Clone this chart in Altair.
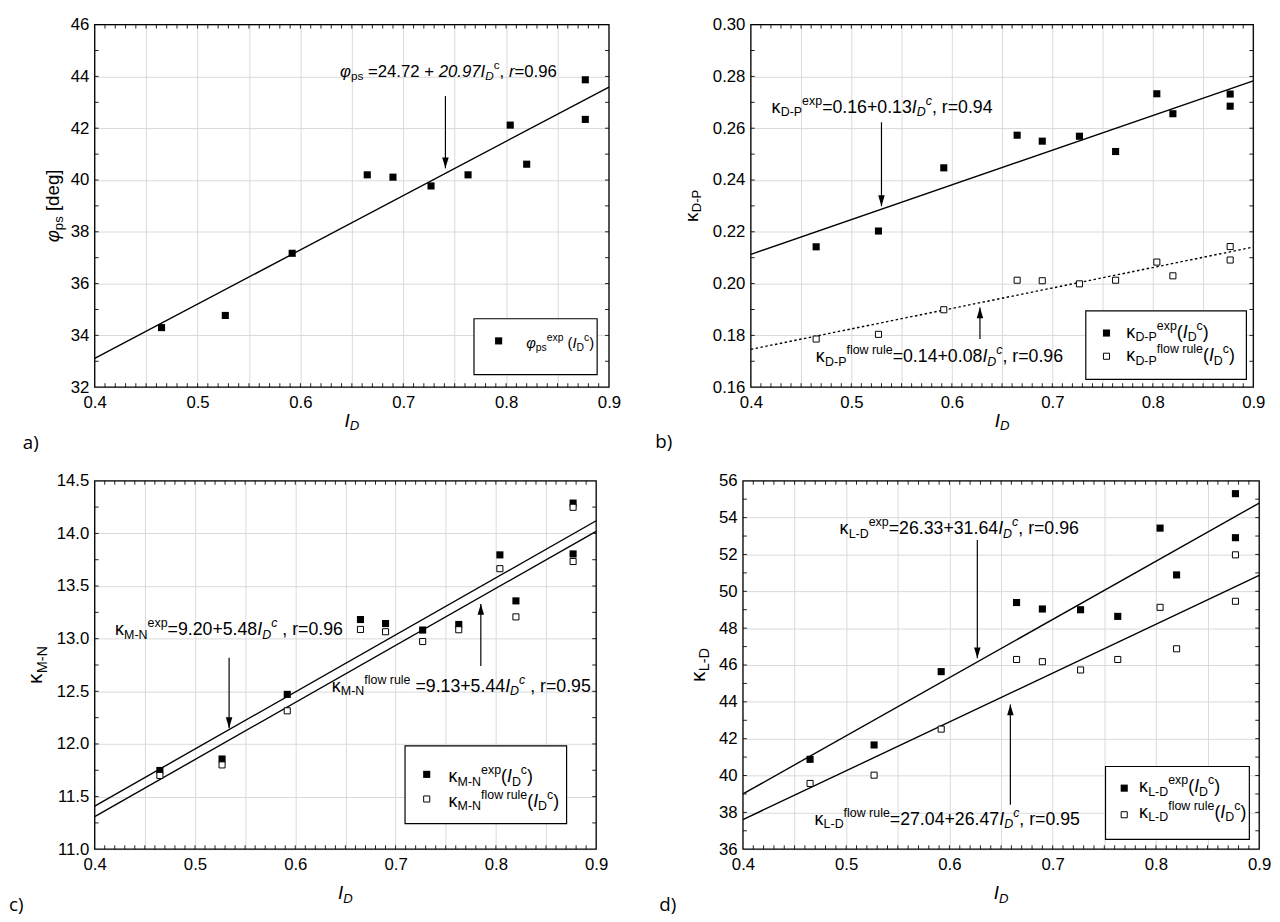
import altair as alt
import pandas as pd

# ---------------- values ----------------
ID = [0.465, 0.527, 0.592, 0.665, 0.690, 0.727, 0.763, 0.804, 0.820, 0.877, 0.877]

phi_exp = [34.30, 34.77, 37.17, 40.20, 40.11, 39.77, 40.20, 42.12, 40.61, 43.87, 42.34]

kdp_exp = [0.2142, 0.2203, 0.2447, 0.2573, 0.2550, 0.2569, 0.2510, 0.2733, 0.2656, 0.2732, 0.2685]
kdp_flow = [0.1786, 0.1804, 0.1899, 0.2013, 0.2011, 0.1999, 0.2013, 0.2083, 0.2030, 0.2143, 0.2091]

kmn_exp = [11.748, 11.857, 12.471, 13.182, 13.144, 13.082, 13.135, 13.796, 13.359, 14.288, 13.805]
kmn_flow = [11.701, 11.801, 12.315, 13.088, 13.066, 12.973, 13.085, 13.665, 13.207, 14.248, 13.733]

kld_exp = [40.88, 41.66, 45.64, 49.39, 49.04, 49.00, 48.64, 53.43, 50.89, 55.30, 52.91]
kld_flow = [39.57, 40.02, 42.52, 46.30, 46.18, 45.73, 46.30, 49.13, 46.88, 51.98, 49.46]

# regression lines (ends at I_D = 0.4 and 0.9)
fit_x = [0.4, 0.9]
phi_fit = [33.11, 43.59]
kdp_exp_fit = [0.2113, 0.2783]
kdp_flow_fit = [0.1746, 0.2141]
kmn_exp_fit = [11.41, 14.12]
kmn_flow_fit = [11.31, 14.02]
kld_exp_fit = [39.00, 54.79]
kld_flow_fit = [37.61, 50.86]

# axes
x_domain = [0.4, 0.9]
x_ticks = [0.4, 0.45, 0.5, 0.55, 0.6, 0.65, 0.7, 0.75, 0.8, 0.85, 0.9]
x_minor_step = 0.01
phi_domain = [32, 46]
phi_ticks = [32, 34, 36, 38, 40, 42, 44, 46]
phi_minor_step = 1
kdp_domain = [0.16, 0.30]
kdp_ticks = [0.16, 0.18, 0.20, 0.22, 0.24, 0.26, 0.28, 0.30]
kdp_minor_step = 0.01
kmn_domain = [11.0, 14.5]
kmn_ticks = [11.0, 11.5, 12.0, 12.5, 13.0, 13.5, 14.0, 14.5]
kmn_minor_step = 0.25
kld_domain = [36, 56]
kld_ticks = [36, 38, 40, 42, 44, 46, 48, 50, 52, 54, 56]
kld_minor_step = 1

# annotation arrows: (I_D, start value, tip value)
arrows_a = [(0.741, 43.24, 40.45)]
arrows_b = [(0.530, 0.2623, 0.2299), (0.628, 0.1786, 0.1908)]
arrows_c = [(0.534, 12.82, 12.15), (0.785, 12.74, 13.33)]
arrows_d = [(0.627, 52.79, 46.36), (0.659, 38.41, 43.86)]

# ---------------- styling ----------------
FONT = "Liberation Sans"
PANEL_FONT = "Open Sans"
GRID = "#d9d9d9"

EM = {' ': .278, '(': .333, ')': .333, '+': .584, ',': .278, '-': .333, '.': .278,
      '=': .584, '[': .278, ']': .278, 'D': .722, 'I': .278, 'L': .556, 'M': .833,
      'N': .722, 'P': .667, 'c': .5, 'd': .556, 'e': .556, 'f': .278, 'g': .556,
      'l': .222, 'o': .556, 'p': .556, 'r': .333, 's': .5, 'u': .556, 'w': .722,
      'x': .5, 'κ': .52, 'φ': .65, 'a': .556, 'b': .556}
for _d in '0123456789':
    EM[_d] = .556

SUBR, SUBSH, SUPSH = 0.7, 0.2, 0.45


def seg_width(text, size):
    return sum(EM.get(ch, .556) for ch in text) * size


def steps(lo, hi, step):
    n = int(round((hi - lo) / step))
    return [round(lo + i * step, 6) for i in range(n + 1)]


class Panel:
    def __init__(self, ref, act, ydom, yticks, yfmt, yminor):
        self.ref = ref
        self.L, self.T, self.w, self.h = act
        self.xdom, self.ydom = x_domain, ydom
        self.yminor = yminor
        self.xs = alt.Scale(domain=x_domain, nice=False, zero=False)
        self.ys = alt.Scale(domain=ydom, nice=False, zero=False)
        common = dict(title=None, grid=True, gridColor=GRID, gridWidth=1, ticks=False,
                      tickSize=0, domain=False, labelFont=FONT, labelFontSize=17,
                      labelColor='black', labelOverlap=False, labelFlush=False)
        self.xaxis = alt.Axis(values=x_ticks, labelPadding=8,
                              labelExpr="round(datum.value*100) % 10 == 0 ? format(datum.value, '.1f') : ''",
                              **common)
        self.yaxis = alt.Axis(values=yticks, format=yfmt, labelPadding=6, **common)
        self.layers = []
        self.texts = []

    def X(self, f='x'):
        return alt.X(f, type='quantitative', scale=self.xs, axis=self.xaxis)

    def Y(self, f='y'):
        return alt.Y(f, type='quantitative', scale=self.ys, axis=self.yaxis)

    def conv(self, px, py, use_ref=True):
        xs = self.xdom[1] - self.xdom[0]
        ys = self.ydom[1] - self.ydom[0]
        if use_ref:
            L, T, R, B = self.ref
            return (self.xdom[0] + (px - L) / (R - L) * xs, self.ydom[1] - (py - T) / (B - T) * ys)
        return (self.xdom[0] + (px - self.L) / self.w * xs, self.ydom[1] - (py - self.T) / self.h * ys)

    def rich(self, segs, px, py, size, align='left', angle=0, font=FONT, inside=True):
        x0, y0 = self.conv(px, py, inside)
        kx = (self.xdom[1] - self.xdom[0]) / self.w
        ky = (self.ydom[1] - self.ydom[0]) / self.h
        pieces, pos = [], 0.0
        for text, kind, it in segs:
            fs = size if kind == 'n' else size * SUBR
            perp = 0.0 if kind == 'n' else (size * SUBSH if kind == 'sub' else -size * SUPSH)
            lead = len(text) - len(text.lstrip())
            pieces.append((text.strip(), fs, it, pos + seg_width(text[:lead], fs), perp))
            pos += seg_width(text, fs)
        start = -pos / 2 if align == 'center' else 0.0
        for text, fs, it, along, perp in pieces:
            if angle == 0:
                ox, oy = start + along, perp
            else:
                ox, oy = perp, -(start + along)
            self.texts.append(dict(x=x0 + ox * kx, y=y0 - oy * ky, t=text, s=fs,
                                   it=int(it), a=int(angle), f=font))

    def line(self, ys, dash=None):
        df = pd.DataFrame({'x': fit_x, 'y': ys})
        kw = dict(color='black', strokeWidth=1.4)
        if dash:
            kw['strokeDash'] = dash
        self.layers.append(alt.Chart(df).mark_line(**kw).encode(x=self.X(), y=self.Y()))

    def points(self, xs, ys, filled):
        df = pd.DataFrame({'x': xs, 'y': ys})
        if filled:
            m = alt.Chart(df).mark_square(size=52, color='black', opacity=1)
        else:
            m = alt.Chart(df).mark_square(size=38, fill='white', stroke='black',
                                          strokeWidth=1, opacity=1)
        self.layers.append(m.encode(x=self.X(), y=self.Y()))

    def arrows(self, arr):
        df = pd.DataFrame({'x': [a[0] for a in arr], 'y': [a[1] for a in arr],
                           'y2': [a[2] for a in arr]})
        self.layers.append(alt.Chart(df).mark_rule(color='black', strokeWidth=1.2).encode(
            x=self.X(), y=self.Y(), y2=alt.Y2('y2')))
        for down in (True, False):
            sub = [a for a in arr if (a[2] < a[1]) == down]
            if not sub:
                continue
            path = "M0,0L-0.3,-1L0.3,-1Z" if down else "M0,0L-0.3,1L0.3,1Z"
            hd = pd.DataFrame({'x': [a[0] for a in sub], 'y': [a[2] for a in sub]})
            self.layers.append(alt.Chart(hd).mark_point(shape=path, size=484, filled=True,
                                                        color='black', opacity=1, strokeWidth=0)
                               .encode(x=self.X(), y=self.Y()))

    def legend_box(self, x1, y1, x2, y2):
        a = self.conv(x1, y1)
        b = self.conv(x2, y2)
        df = pd.DataFrame({'x': [a[0]], 'x2': [b[0]], 'y': [a[1]], 'y2': [b[1]]})
        self.layers.append(alt.Chart(df).mark_rect(fill='white', stroke='black', strokeWidth=1.2)
                           .encode(x=self.X(), x2=alt.X2('x2'), y=self.Y(), y2=alt.Y2('y2')))

    def legend_marker(self, px, py, filled):
        x, y = self.conv(px, py)
        self.points([x], [y], filled)

    def edge_ticks(self, length=4):
        kx = (self.xdom[1] - self.xdom[0]) / self.w * length
        ky = (self.ydom[1] - self.ydom[0]) / self.h * length
        xm = steps(self.xdom[0], self.xdom[1], x_minor_step)[1:-1]
        ym = steps(self.ydom[0], self.ydom[1], self.yminor)[1:-1]
        rows = ([dict(x=v, y=self.ydom[1], y2=self.ydom[1] - ky) for v in xm] +
                [dict(x=v, y=self.ydom[0], y2=self.ydom[0] + ky) for v in xm])
        self.layers.append(alt.Chart(pd.DataFrame(rows)).mark_rule(color='#222', strokeWidth=1)
                           .encode(x=self.X(), y=self.Y(), y2=alt.Y2('y2')))
        rows = ([dict(x=self.xdom[0], x2=self.xdom[0] + kx, y=v) for v in ym] +
                [dict(x=self.xdom[1], x2=self.xdom[1] - kx, y=v) for v in ym])
        self.layers.append(alt.Chart(pd.DataFrame(rows)).mark_rule(color='#222', strokeWidth=1)
                           .encode(x=self.X(), x2=alt.X2('x2'), y=self.Y()))

    def chart(self):
        self.edge_ticks()
        layers = list(self.layers)
        df = pd.DataFrame(self.texts)
        for (it, a, f), g in df.groupby(['it', 'a', 'f']):
            layers.append(alt.Chart(g.reset_index(drop=True)).mark_text(
                align='left', baseline='alphabetic', angle=float(a), font=str(f),
                fontStyle='italic' if int(it) else 'normal', color='black').encode(
                x=self.X(), y=self.Y(), text='t:N', size=alt.Size('s:Q', scale=None)))
        frame = pd.DataFrame({'x': [self.xdom[0]], 'x2': [self.xdom[1]],
                              'y': [self.ydom[0]], 'y2': [self.ydom[1]]})
        layers.append(alt.Chart(frame).mark_rect(fillOpacity=0, stroke='black', strokeWidth=1.3)
                      .encode(x=self.X(), x2=alt.X2('x2'), y=self.Y(), y2=alt.Y2('y2')))
        return alt.layer(*layers).properties(width=self.w, height=self.h)


K = ("κ", 'n', 0)
IDc = [("I", 'n', 1), ("D", 'sub', 1), ("c", 'sup', 1)]
IDc_leg = [("(", 'n', 0), ("I", 'n', 1), ("D", 'sub', 0), ("c", 'sup', 0), (")", 'n', 0)]
ID_title = [("I", 'n', 1), ("D", 'sub', 1)]

# ---------------- panel a ----------------
pa = Panel((81, 8, 603, 384), (81, 16, 522, 368), phi_domain, phi_ticks, 'd', phi_minor_step)
pa.legend_box(466, 313, 591, 371)
pa.line(phi_fit)
pa.points(ID, phi_exp, True)
pa.arrows(arrows_a)
pa.legend_marker(491, 336, True)
pa.rich([("φ", 'n', 1), ("ps", 'sub', 0), (" =24.72 + ", 'n', 0), ("20.97", 'n', 1),
         ("I", 'n', 1), ("D", 'sub', 1), ("c", 'sup', 0), (", ", 'n', 0), ("r", 'n', 1),
         ("=0.96", 'n', 0)], 330, 62, 17)
pa.rich([("φ", 'n', 1), ("ps", 'sub', 0), ("exp", 'sup', 0), (" (", 'n', 0), ("I", 'n', 1),
         ("D", 'sub', 0), ("c", 'sup', 0), (")", 'n', 0)], 519, 343, 15)
pa.rich([("φ", 'n', 1), ("ps", 'sub', 0), (" [deg]", 'n', 0)], 45, 200, 19,
        align='center', angle=270, inside=False)
pa.rich(ID_title, 342, 424, 19, align='center', inside=False)
pa.rich([("a)", 'n', 0)], 8, 447, 19, font=PANEL_FONT, inside=False)

# ---------------- panel b ----------------
pb = Panel((754, 9, 1264, 384), (754, 16, 510, 368), kdp_domain, kdp_ticks, '.2f', kdp_minor_step)
pb.legend_box(1094, 305, 1257, 376)
pb.line(kdp_exp_fit)
pb.line(kdp_flow_fit, dash=[2.5, 2.5])
pb.points(ID, kdp_exp, True)
pb.points(ID, kdp_flow, False)
pb.arrows(arrows_b)
pb.legend_marker(1115, 328, True)
pb.legend_marker(1115, 352, False)
pb.rich([K, ("D-P", 'sub', 0), ("exp", 'sup', 0), ("=0.16+0.13", 'n', 0)] + IDc +
        [(", r=0.94", 'n', 0)], 775, 100, 18)
pb.rich([K, ("D-P", 'sub', 0), ("flow rule", 'sup', 0), ("=0.14+0.08", 'n', 0)] + IDc +
        [(", r=0.96", 'n', 0)], 820, 358, 18)
pb.rich([K, ("D-P", 'sub', 0), ("exp", 'sup', 0)] + IDc_leg, 1135, 333, 18)
pb.rich([K, ("D-P", 'sub', 0), ("flow rule", 'sup', 0)] + IDc_leg, 1135, 357, 18)
pb.rich([K, ("D-P", 'sub', 0)], 700, 200, 19, align='center', angle=270, inside=False)
pb.rich(ID_title, 1009, 424, 19, align='center', inside=False)
pb.rich([("b)", 'n', 0)], 657, 446, 19, font=PANEL_FONT, inside=False)

# ---------------- panel c ----------------
pc = Panel((95, 481, 604, 855), (95, 481, 509, 374), kmn_domain, kmn_ticks, '.1f', kmn_minor_step)
pc.legend_box(410, 750, 574, 829)
pc.line(kmn_exp_fit)
pc.line(kmn_flow_fit)
pc.points(ID, kmn_exp, True)
pc.points(ID, kmn_flow, False)
pc.arrows(arrows_c)
pc.legend_marker(432, 779, True)
pc.legend_marker(432, 804, False)
pc.rich([K, ("M-N", 'sub', 0), ("exp", 'sup', 0), ("=9.20+5.48", 'n', 0)] + IDc +
        [(" , r=0.96", 'n', 0)], 115.5, 638, 18)
pc.rich([K, ("M-N", 'sub', 0), ("flow rule", 'sup', 0), (" =9.13+5.44", 'n', 0)] + IDc +
        [(" , r=0.95", 'n', 0)], 335.5, 695, 18)
pc.rich([K, ("M-N", 'sub', 0), ("exp", 'sup', 0)] + IDc_leg, 454, 787, 18)
pc.rich([K, ("M-N", 'sub', 0), ("flow rule", 'sup', 0)] + IDc_leg, 454, 812, 18)
pc.rich([K, ("M-N", 'sub', 0)], 42, 668, 21, align='center', angle=270, inside=False)
pc.rich(ID_title, 349.5, 906, 19, align='center', inside=False)
pc.rich([("c)", 'n', 0)], 8, 918, 19, font=PANEL_FONT, inside=False)

# ---------------- panel d ----------------
pd_ = Panel((743, 481, 1267, 855), (743, 481, 524, 374), kld_domain, kld_ticks, 'd', kld_minor_step)
pd_.legend_box(1111, 771, 1257, 845)
pd_.line(kld_exp_fit)
pd_.line(kld_flow_fit)
pd_.points(ID, kld_exp, True)
pd_.points(ID, kld_flow, False)
pd_.arrows(arrows_d)
pd_.legend_marker(1130, 793, True)
pd_.legend_marker(1130, 820, False)
pd_.rich([K, ("L-D", 'sub', 0), ("exp", 'sup', 0), ("=26.33+31.64", 'n', 0)] + IDc +
         [(", r=0.96", 'n', 0)], 841, 535, 18)
pd_.rich([K, ("L-D", 'sub', 0), ("flow rule", 'sup', 0), ("=27.04+26.47", 'n', 0)] + IDc +
         [(", r=0.95", 'n', 0)], 815.5, 830, 18)
pd_.rich([K, ("L-D", 'sub', 0), ("exp", 'sup', 0)] + IDc_leg, 1145, 797, 18)
pd_.rich([K, ("L-D", 'sub', 0), ("flow rule", 'sup', 0)] + IDc_leg, 1145, 823, 18)
pd_.rich([K, ("L-D", 'sub', 0)], 704, 668, 21, align='center', angle=270, inside=False)
pd_.rich(ID_title, 1005, 906, 19, align='center', inside=False)
pd_.rich([("d)", 'n', 0)], 658, 918, 19, font=PANEL_FONT, inside=False)

top = alt.hconcat(pa.chart(), pb.chart(), spacing=33)
bottom = alt.hconcat(pc.chart(), pd_.chart(), spacing=50)
chart = alt.vconcat(top, bottom, spacing=17, padding=0).configure_view(stroke='transparent')

chart.save("out.html", embed_options={"renderer": "svg", "actions": False})
